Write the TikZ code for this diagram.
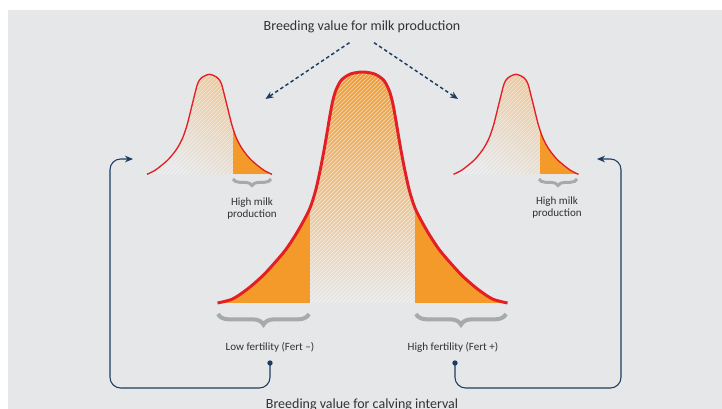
\documentclass[tikz,border=0pt]{standalone}
\usepackage{fontspec}
\setmainfont{Carlito}
\usepackage{xcolor}
\usepackage{tikz}
\usetikzlibrary{arrows.meta}
\usetikzlibrary{positioning, decorations.pathreplacing, patterns}
\definecolor{panel}{RGB}{230,231,232}
\definecolor{tail}{RGB}{243,154,43}
\definecolor{curve}{RGB}{227,30,36}
\definecolor{bracegray}{RGB}{167,169,172}
\definecolor{navy}{RGB}{28,61,99}
\definecolor{label}{RGB}{50,50,52}
\newcommand\smallbellpath{plot[smooth] coordinates {(-62.5, 0) (-54, -4.3) (-41.7, -14.3) (-33, -25) (-27, -36) (-22.5, -49) (-18.7, -64) (-14.5, -81) (-11.7, -91) (-8, -96.5) (0, -100) (8, -96.5) (11.7, -91) (14.5, -81) (18.7, -64) (22.5, -49) (27, -36) (33, -25) (41.7, -14.3) (54, -4.3) (62.5, 0)}}
\newcommand\bigbellpath{plot[smooth] coordinates {(-145, 0) (-130, -4) (-115, -14) (-100, -27) (-88, -40) (-77, -53) (-67, -68) (-59, -82) (-52.5, -95) (-47, -112) (-42.5, -132) (-39, -150) (-36, -167) (-33, -185) (-30, -201) (-26.5, -213) (-21, -223) (-12, -229) (0, -231) (12, -229) (21, -223) (26.5, -213) (30, -201) (33, -185) (36, -167) (39, -150) (42.5, -132) (47, -112) (52.5, -95) (59, -82) (67, -68) (77, -53) (88, -40) (100, -27) (115, -14) (130, -4) (145, 0)}}
\tikzset{
title/.style = {text = label, font = \fontsize{10.5}{12}\selectfont, inner sep = 0pt},
caption/.style = {text = label, font = \fontsize{8.3}{9}\selectfont, align = center, inner sep = 0pt},
milk arrow/.style = {draw = navy, line width = 1.1pt, dash pattern = on 2.6pt off 2pt, -{Stealth[length = 6pt, width = 5pt]}},
link/.style = {draw = navy, line width = 0.8pt, rounded corners = 8pt, -{Stealth[length = 6pt, width = 5pt]}},
dot/.style = {circle, fill = navy, inner sep = 0pt, minimum size = 4pt},
curly/.style = {draw = bracegray, decorate, decoration = {brace, mirror, amplitude = #1}},
}
\tikzset{
pics/small bell/.style = {
        code = {
        \begin{scope}
        \clip \smallbellpath -- cycle;
        \fill[top color = tail!45!panel, bottom color = panel, shading angle = -35] (-63, -101) rectangle (63, 0);
        \fill[pattern = north east lines, pattern color = white, opacity = 0.5] (-63, -101) rectangle (63, 0);
        \fill[tail] (23.5, -101) rectangle (63, 0);
        \end{scope}
        \draw[curve, line width = 1pt] \smallbellpath;
        }
    },
pics/big bell/.style = {
        code = {
        \begin{scope}
        \clip \bigbellpath -- cycle;
        \fill[top color = tail, middle color = tail!45!panel, bottom color = panel] (-146, -232) rectangle (146, 0);
        \fill[pattern = north east lines, pattern color = white, opacity = 0.6] (-146, -232) rectangle (146, 0);
        \fill[tail] (-146, -232) rectangle (-52.5, 0);
        \fill[tail] (52.5, -232) rectangle (146, 0);
        \end{scope}
        \draw[curve, line width = 2.2pt] \bigbellpath;
        }
    }
}
\begin{document}
\begin{tikzpicture}[x = 0.75pt, y = -0.75pt]
    \useasboundingbox (0, 0) rectangle (722, 409);
    \fill[panel] (8, 10) rectangle (722, 409);
    % curves
    \draw (209.5, 174.3) pic{small bell};
    \draw (516, 174.3) pic{small bell};
    \draw (362.5, 303) pic{big bell};
    % braces
    \draw[curly = 5pt, line width = 2.2pt] (233, 179) -- (271, 179);
    \draw[curly = 5pt, line width = 2.2pt] (539, 179) -- (577, 179);
    \draw[curly = 8pt, line width = 3pt] (218, 314) -- (309, 314);
    \draw[curly = 8pt, line width = 3pt] (416, 314) -- (506, 314);
    % texts
    \node[title] (milk) at (362, 27) {Breeding value for milk production};
    \node[title, anchor = base] (calving) at (362, 409) {Breeding value for calving interval};
    \node[caption] (milk left) at (252, 209) {High milk\\production};
    \node[caption] (milk right) at (557, 208) {High milk\\production};
    \node[caption] (fert low) at (270, 347) {Low fertility (Fert –)};
    \node[caption] (fert high) at (453, 347) {High fertility (Fert +)};
    % arrows
    \coordinate (to left) at (265.5, 99);
    \coordinate (to right) at (458, 99);
    \draw[milk arrow] ([xshift = -9.4pt, yshift = -7pt]milk.south) -- (to left);
    \draw[milk arrow] ([xshift = 9pt, yshift = -7pt]milk.south) -- (to right);
    \node[dot] (dot low) at (270, 363) {};
    \node[dot] (dot high) at (455, 363) {};
    \coordinate (corner left) at (110, 388);
    \coordinate (corner right) at (621, 388);
    \coordinate (in left) at (133, 159);
    \coordinate (in right) at (597, 159);
    \draw[link] (dot low.center) |- (corner left) |- (in left);
    \draw[link] (dot high.center) |- (corner right) |- (in right);
  \end{tikzpicture}
\end{document}
